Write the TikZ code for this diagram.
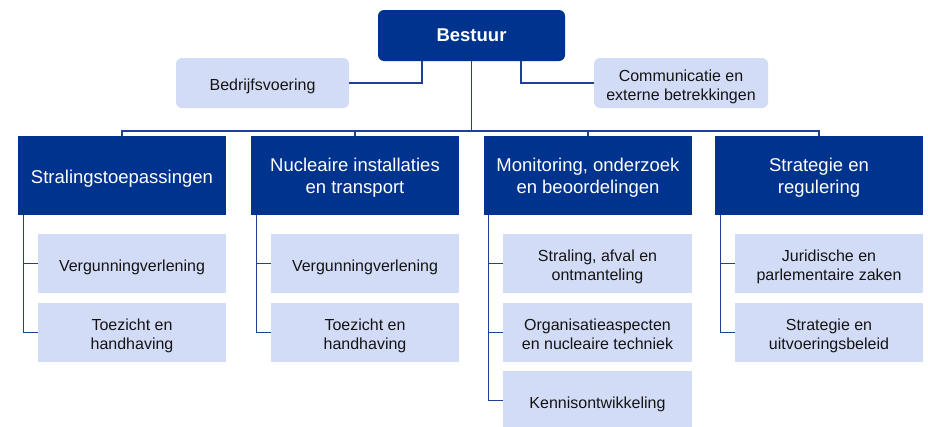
\documentclass[tikz,border=0pt]{standalone}
\usepackage{fontspec}
\setmainfont{Liberation Sans}
\definecolor{dkblue}{RGB}{0,51,141}
\definecolor{lav}{RGB}{211,220,247}
\definecolor{lnblue}{RGB}{32,64,150}
\definecolor{txt}{RGB}{20,20,20}
\newcommand\celltxt[2]{\raisebox{-#1}[\height][\depth]{\begin{tabular}{@{}c@{}}#2\end{tabular}}}
\begin{document}
\begin{tikzpicture}[x=1pt,y=1pt,
  topbox/.style={fill=dkblue,draw=none,rounded corners=6pt,inner sep=0pt,text=white,
     font=\fontsize{18.5}{22}\selectfont\bfseries},
  staffbox/.style={fill=lav,draw=none,rounded corners=6pt,inner sep=0pt,text=txt,
     font=\fontsize{16}{18.6}\selectfont,minimum height=50pt},
  headbox/.style={fill=dkblue,draw=none,inner sep=0pt,text=white,
     font=\fontsize{18.5}{22}\selectfont,minimum width=208pt,minimum height=79pt},
  subbox/.style={fill=lav,draw=none,inner sep=0pt,text=txt,
     font=\fontsize{16}{19.3}\selectfont,minimum width=188pt,minimum height=59pt},
  conn/.style={draw=lnblue,line width=1.3pt}]
\useasboundingbox (0,0) rectangle (928,-426);
\fill[white] (0,0) rectangle (928,-426);

\node[topbox,minimum width=187pt,minimum height=51pt] (bestuur) at (471.5,-35.5) {\celltxt{1.8pt}{Bestuur}};
\node[staffbox,minimum width=173pt] (bedrijf) at (262.5,-83) {\celltxt{3.5pt}{Bedrijfsvoering}};
\node[staffbox,minimum width=174pt] (comm) at (681,-83) {\celltxt{4.2pt}{Communicatie en\\externe betrekkingen}};

\node[headbox] (h1) at (122,-175.5) {\celltxt{3.2pt}{Stralingstoepassingen}};
\node[headbox] (h2) at (355,-175.5) {\celltxt{2.8pt}{Nucleaire installaties\\en transport}};
\node[headbox] (h3) at (588,-175.5) {\celltxt{2.8pt}{Monitoring, onderzoek\\en beoordelingen}};
\node[headbox] (h4) at (819,-175.5) {\celltxt{2.8pt}{Strategie en\\regulering}};

\node[subbox] (s11) at (132,-263.5) {\celltxt{3.8pt}{Vergunningverlening}};
\node[subbox] (s12) at (132,-332.5) {\celltxt{3.5pt}{Toezicht en\\handhaving}};
\node[subbox] (s21) at (365,-263.5) {\celltxt{3.8pt}{Vergunningverlening}};
\node[subbox] (s22) at (365,-332.5) {\celltxt{3.5pt}{Toezicht en\\handhaving}};
\node[subbox,minimum width=189pt] (s31) at (597.5,-263.5) {\celltxt{3.5pt}{Straling, afval en\\ontmanteling}};
\node[subbox,minimum width=189pt] (s32) at (597.5,-332.5) {\celltxt{3.5pt}{Organisatieaspecten\\en nucleaire techniek}};
\node[subbox,minimum width=189pt] (s33) at (597.5,-400.5) {\celltxt{3.8pt}{Kennisontwikkeling}};
\node[subbox] (s41) at (829,-263.5) {\celltxt{3.5pt}{Juridische en\\parlementaire zaken}};
\node[subbox] (s42) at (829,-332.5) {\celltxt{3.5pt}{Strategie en\\uitvoeringsbeleid}};

\coordinate (bus) at (471.5,-131);
\draw[conn] ([xshift=-49.5pt]bestuur.south) |- (bedrijf.east);
\draw[conn] ([xshift=49.5pt]bestuur.south) |- (comm.west);
\draw[conn] (bestuur.south) -- (bus);
\draw[conn] (h1.north) |- (bus) -| (h4.north);
\draw[conn] (h2.north) -- (h2.north |- bus);
\draw[conn] (h3.north) -- (h3.north |- bus);

\coordinate (v1) at ([xshift=6pt]h1.south west);
\coordinate (v2) at ([xshift=6pt]h2.south west);
\coordinate (v3) at ([xshift=5pt]h3.south west);
\coordinate (v4) at ([xshift=6pt]h4.south west);
\draw[conn] (v1) |- (s12.west);
\draw[conn] (v1 |- s11.west) -- (s11.west);
\draw[conn] (v2) |- (s22.west);
\draw[conn] (v2 |- s21.west) -- (s21.west);
\draw[conn] (v3) |- (s33.west);
\draw[conn] (v3 |- s31.west) -- (s31.west);
\draw[conn] (v3 |- s32.west) -- (s32.west);
\draw[conn] (v4) |- (s42.west);
\draw[conn] (v4 |- s41.west) -- (s41.west);
\end{tikzpicture}
\end{document}
